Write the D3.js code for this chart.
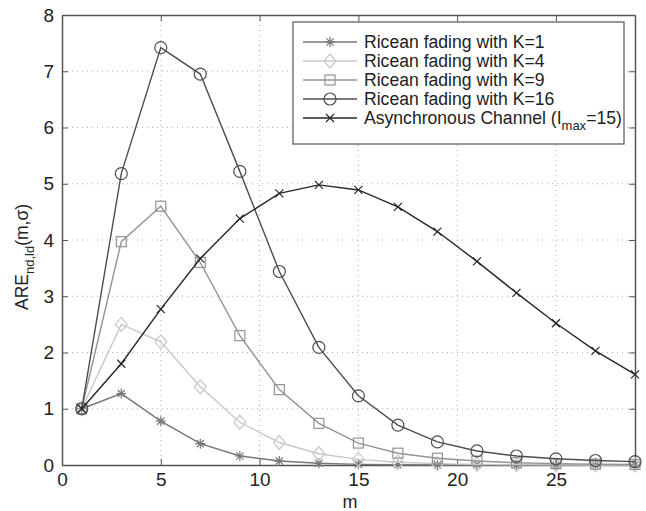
<!DOCTYPE html>
<html>
<head>
<meta charset="utf-8">
<script src="https://cdn.jsdelivr.net/npm/d3@7"></script>
<style>
  body { margin: 0; background: #fff; }
  svg { font-family: "Liberation Sans", Arial, sans-serif; }
</style>
</head>
<body>
<svg id="chart" width="646" height="511"></svg>
<script>
const mValues = [1, 3, 5, 7, 9, 11, 13, 15, 17, 19, 21, 23, 25, 27, 29];
const k1 = [1, 1.27, 0.78, 0.38, 0.16, 0.07, 0.03, 0.012, 0.005, 0.002, 0.001, 0, 0, 0, 0];
const k4 = [1, 2.5, 2.19, 1.39, 0.76, 0.4, 0.2, 0.1, 0.05, 0.025, 0.012, 0.006, 0.003, 0.001, 0];
const k9 = [1, 3.97, 4.6, 3.6, 2.3, 1.34, 0.74, 0.39, 0.21, 0.12, 0.07, 0.04, 0.025, 0.015, 0.01];
const k16 = [1, 5.18, 7.42, 6.95, 5.22, 3.44, 2.09, 1.23, 0.71, 0.41, 0.25, 0.16, 0.11, 0.08, 0.06];
const asyncCh = [1, 1.8, 2.77, 3.67, 4.38, 4.83, 4.98, 4.89, 4.59, 4.15, 3.62, 3.06, 2.52, 2.03, 1.61];
const xTicks = [0, 5, 10, 15, 20, 25];
const yTicks = [0, 1, 2, 3, 4, 5, 6, 7, 8];

const series = [
  { name: "Ricean fading with K=1", values: k1, color: "#777777", marker: "star" },
  { name: "Ricean fading with K=4", values: k4, color: "#c8c8c8", marker: "diamond" },
  { name: "Ricean fading with K=9", values: k9, color: "#939393", marker: "square" },
  { name: "Ricean fading with K=16", values: k16, color: "#4d4d4d", marker: "circle" },
  { name: "Asynchronous Channel", values: asyncCh, color: "#262626", marker: "cross" }
];

const svg = d3.select("#chart");
const pLeft = 62, pRight = 635, pTop = 15, pBottom = 465;

const x = d3.scaleLinear().domain([0, 29]).range([pLeft, pRight]);
const y = d3.scaleLinear().domain([0, 8]).range([pBottom, pTop]);

// grid
svg.append("g").selectAll("line")
  .data(xTicks.slice(1))
  .join("line")
  .attr("x1", d => x(d)).attr("x2", d => x(d))
  .attr("y1", pTop).attr("y2", pBottom)
  .attr("stroke", "#b0b0b0").attr("stroke-dasharray", "1,4");
svg.append("g").selectAll("line")
  .data(yTicks.slice(1, -1))
  .join("line")
  .attr("y1", d => y(d)).attr("y2", d => y(d))
  .attr("x1", pLeft).attr("x2", pRight)
  .attr("stroke", "#b0b0b0").attr("stroke-dasharray", "1,4");

// axes (MATLAB style, ticks inside)
const axisColor = "#555";
const xb = svg.append("g").attr("transform", `translate(0,${pBottom})`)
  .call(d3.axisBottom(x).tickValues(xTicks).tickSizeInner(-6).tickSizeOuter(0).tickPadding(8));
const xt = svg.append("g").attr("transform", `translate(0,${pTop})`)
  .call(d3.axisTop(x).tickValues(xTicks).tickSizeInner(-6).tickSizeOuter(0).tickFormat(""));
const yl = svg.append("g").attr("transform", `translate(${pLeft},0)`)
  .call(d3.axisLeft(y).tickValues(yTicks).tickSizeInner(-6).tickSizeOuter(0).tickPadding(8));
const yr = svg.append("g").attr("transform", `translate(${pRight},0)`)
  .call(d3.axisRight(y).tickValues(yTicks).tickSizeInner(-6).tickSizeOuter(0).tickFormat(""));
[xb, xt, yl, yr].forEach(g => {
  g.select(".domain").attr("stroke", axisColor).attr("stroke-width", 1.5);
  g.selectAll(".tick line").attr("stroke", axisColor);
  g.selectAll("text").attr("font-size", 19).attr("fill", "#222")
    .style("font-family", "'Liberation Sans', Arial, sans-serif");
});

// markers
function drawMarker(g, type, color) {
  if (type === "circle") {
    g.append("circle").attr("r", 6).attr("fill", "none").attr("stroke", color).attr("stroke-width", 1.2);
  } else if (type === "square") {
    g.append("rect").attr("x", -5).attr("y", -5).attr("width", 10).attr("height", 10)
      .attr("fill", "none").attr("stroke", color).attr("stroke-width", 1.2);
  } else if (type === "diamond") {
    g.append("path").attr("d", "M0,-7L6,0L0,7L-6,0Z")
      .attr("fill", "none").attr("stroke", color).attr("stroke-width", 1.2);
  } else if (type === "star") {
    g.append("path").attr("d", "M-5,0H5M0,-5V5M-3.6,-3.6L3.6,3.6M-3.6,3.6L3.6,-3.6")
      .attr("stroke", color).attr("stroke-width", 1.2);
  } else if (type === "cross") {
    g.append("path").attr("d", "M-4,-4L4,4M-4,4L4,-4")
      .attr("stroke", color).attr("stroke-width", 1.2);
  }
}

const line = d3.line().x((d, i) => x(mValues[i])).y(d => y(d));

series.forEach(s => {
  svg.append("path").datum(s.values)
    .attr("d", line).attr("fill", "none")
    .attr("stroke", s.color).attr("stroke-width", 1.4);
  svg.append("g").selectAll("g")
    .data(s.values)
    .join("g")
    .attr("transform", (d, i) => `translate(${x(mValues[i])},${y(d)})`)
    .each(function() { drawMarker(d3.select(this), s.marker, s.color); });
});

// legend
const lg = svg.append("g");
lg.append("rect").attr("x", 293).attr("y", 22).attr("width", 331).attr("height", 122)
  .attr("fill", "#fff").attr("stroke", "#555").attr("stroke-width", 1.2);
series.forEach((s, i) => {
  const cy = 42 + i * 19;
  const row = lg.append("g");
  row.append("line").attr("x1", 303).attr("x2", 357).attr("y1", cy).attr("y2", cy)
    .attr("stroke", s.color).attr("stroke-width", 1.4);
  drawMarker(row.append("g").attr("transform", `translate(330,${cy})`), s.marker, s.color);
  const t = row.append("text").attr("x", 364).attr("y", cy + 6)
    .attr("font-size", 17.6).attr("fill", "#222");
  if (i === 4) {
    t.append("tspan").text("Asynchronous Channel (I");
    t.append("tspan").attr("font-size", 13).attr("dy", 6).text("max");
    t.append("tspan").attr("dy", -6).text("=15)");
  } else {
    t.text(s.name);
  }
});

// axis labels
svg.append("text").attr("x", 350).attr("y", 508)
  .attr("text-anchor", "middle").attr("font-size", 18).attr("fill", "#222").text("m");
const yl2 = svg.append("text").attr("transform", "translate(28,257) rotate(-90)")
  .attr("text-anchor", "middle").attr("font-size", 17.5).attr("fill", "#222");
yl2.append("tspan").text("ARE");
yl2.append("tspan").attr("font-size", 13).attr("dy", 6).text("nd,ld");
yl2.append("tspan").attr("dy", -6).text("(m,σ)");
</script>
</body>
</html>
